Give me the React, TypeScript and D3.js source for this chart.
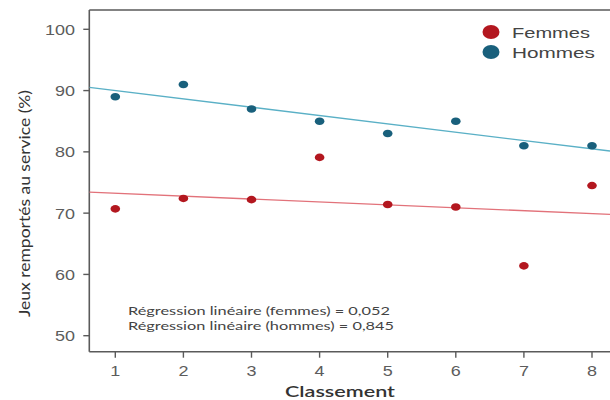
import React from "react";
import * as d3 from "d3";

const classement = [1, 2, 3, 4, 5, 6, 7, 8];
const femmes = [70.7, 72.4, 72.2, 79.1, 71.4, 71.0, 61.4, 74.5];
const hommes = [89, 91, 87, 85, 83, 85, 81, 81];
const yTicks = [50, 60, 70, 80, 90, 100];
const xTicks = [1, 2, 3, 4, 5, 6, 7, 8];
const legendLabels = ["Femmes", "Hommes"];
const annotations = [
  "Régression linéaire (femmes) = 0,052",
  "Régression linéaire (hommes) = 0,845",
];

const W = 610;
const H = 400;
const left = 89.3;
const right = 612;
const top = 10;
const bottom = 351.7;

const x = d3.scaleLinear().domain([1, 8]).range([115.3, 592]);
const y = d3.scaleLinear().domain([50, 100]).range([335.7, 29.3]);

function regression(xs: number[], ys: number[]) {
  const mx = d3.mean(xs)!;
  const my = d3.mean(ys)!;
  let sxy = 0;
  let sxx = 0;
  xs.forEach((xv, i) => {
    sxy += (xv - mx) * (ys[i] - my);
    sxx += (xv - mx) ** 2;
  });
  const b = sxy / sxx;
  return (v: number) => my + b * (v - mx);
}

const RED_DOT = "#b3171f";
const BLUE_DOT = "#19607c";
const RED_LINE = "#e2727a";
const BLUE_LINE = "#5ab0c6";
const AXIS = "#5a5a5a";

export default function App() {
  const x0 = x.invert(left);
  const x1 = x.invert(W);
  const fReg = regression(classement, femmes);
  const hReg = regression(classement, hommes);
  const regPath = (f: (v: number) => number) =>
    d3
      .line<number>()
      .x((d) => x(d))
      .y((d) => y(f(d)))([x0, x1]) as string;

  return (
    <svg
      width={W}
      height={H}
      style={{ position: "absolute", left: 0, top: 0, background: "#fff" }}
    >
      <defs>
        <clipPath id="plot">
          <rect x={left} y={top} width={W - left} height={bottom - top} />
        </clipPath>
      </defs>
      {/* frame */}
      <line x1={left} x2={right} y1={top} y2={top} stroke={AXIS} strokeWidth={1.4} />
      <line x1={left} x2={left} y1={top} y2={bottom} stroke={AXIS} strokeWidth={1.6} />
      <line x1={left} x2={right} y1={bottom} y2={bottom} stroke={AXIS} strokeWidth={1.6} />

      {/* y ticks */}
      {yTicks.map((t) => (
        <g key={"y" + t}>
          <line x1={left - 6} x2={left} y1={y(t)} y2={y(t)} stroke={AXIS} strokeWidth={1.4} />
          <text
            x={75}
            y={y(t) + 5.5}
            textAnchor="end"
            fontFamily="Liberation Sans, Arial, sans-serif"
            fontSize={15}
            fill="#5c5c5c"
            textLength={String(t).length * 10}
            lengthAdjust="spacingAndGlyphs"
          >
            {t}
          </text>
        </g>
      ))}

      {/* x ticks */}
      {xTicks.map((t) => (
        <g key={"x" + t}>
          <line x1={x(t)} x2={x(t)} y1={bottom} y2={bottom + 6} stroke={AXIS} strokeWidth={1.4} />
          <text
            x={x(t)}
            y={376}
            textAnchor="middle"
            fontFamily="Liberation Sans, Arial, sans-serif"
            fontSize={15}
            fill="#5c5c5c"
            textLength={10}
            lengthAdjust="spacingAndGlyphs"
          >
            {t}
          </text>
        </g>
      ))}

      {/* regression lines */}
      <g clipPath="url(#plot)">
        <path d={regPath(hReg)} stroke={BLUE_LINE} strokeWidth={1.3} fill="none" />
        <path d={regPath(fReg)} stroke={RED_LINE} strokeWidth={1.3} fill="none" />
      </g>

      {/* points */}
      {classement.map((c, i) => (
        <ellipse key={"h" + c} cx={x(c)} cy={y(hommes[i])} rx={4.8} ry={3.8} fill={BLUE_DOT} />
      ))}
      {classement.map((c, i) => (
        <ellipse key={"f" + c} cx={x(c)} cy={y(femmes[i])} rx={4.8} ry={3.8} fill={RED_DOT} />
      ))}

      {/* legend */}
      {legendLabels.map((lab, i) => (
        <g key={lab}>
          <ellipse cx={491} cy={32 + i * 20} rx={8.5} ry={7} fill={i === 0 ? RED_DOT : BLUE_DOT} />
          <text
            x={512}
            y={37.5 + i * 20}
            fontFamily="Liberation Sans, Arial, sans-serif"
            fontSize={15.5}
            fill="#444"
            textLength={i === 0 ? 78 : 83}
            lengthAdjust="spacingAndGlyphs"
          >
            {lab}
          </text>
        </g>
      ))}

      {/* annotations */}
      {annotations.map((a, i) => (
        <text
          key={a}
          x={128}
          y={314.5 + i * 15}
          fontFamily="Lato, sans-serif"
          fontSize={12}
          fill="#444"
          textLength={i === 0 ? 262 : 266}
          lengthAdjust="spacingAndGlyphs"
        >
          {a}
        </text>
      ))}

      {/* axis titles */}
      <text
        x={340}
        y={396.5}
        textAnchor="middle"
        fontFamily="Lato, sans-serif"
        fontWeight={600}
        fontSize={15.5}
        fill="#333"
        textLength={110}
        lengthAdjust="spacingAndGlyphs"
      >
        Classement
      </text>
      <text
        transform="translate(30,203.5) rotate(-90)"
        textAnchor="middle"
        fontFamily="Lato, sans-serif"
        fontSize={15}
        fill="#333"
        textLength={227}
        lengthAdjust="spacingAndGlyphs"
      >
        Jeux remportés au service (%)
      </text>
    </svg>
  );
}
